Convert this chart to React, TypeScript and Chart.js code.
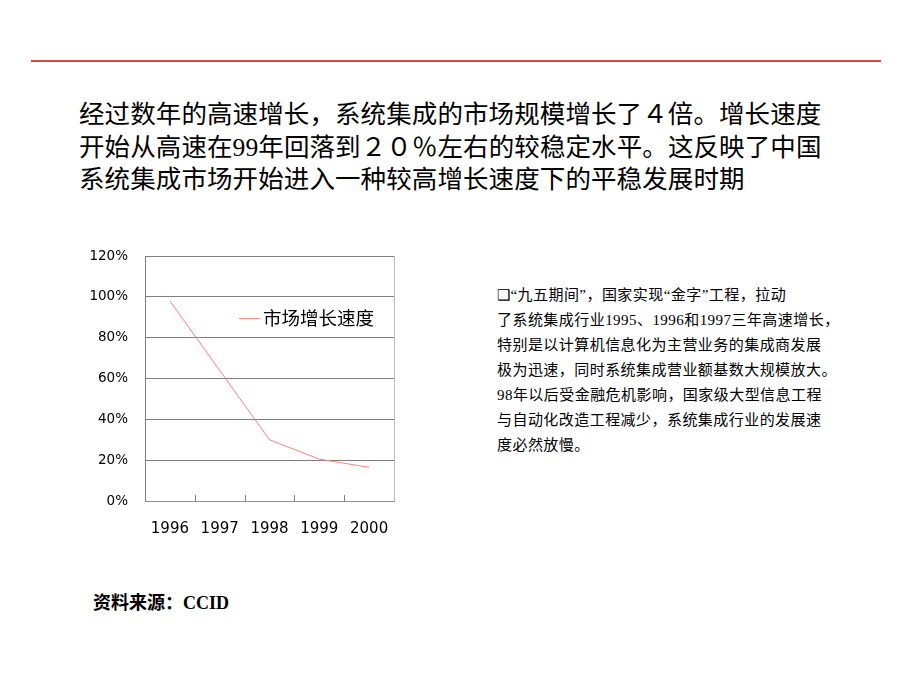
import React, { useEffect, useRef } from "react";
import { Chart, registerables } from "chart.js";

Chart.register(...registerables);

const years = ["1996", "1997", "1998", "1999", "2000"];
const growthRate = [98, 64, 30, 20.5, 16.5];
const seriesLabel = "市场增长速度";
const yTicks = [0, 20, 40, 60, 80, 100, 120];

const titleLines = [
  "经过数年的高速增长，系统集成的市场规模增长了４倍。增长速度",
  "开始从高速在99年回落到２０％左右的较稳定水平。这反映了中国",
  "系统集成市场开始进入一种较高增长速度下的平稳发展时期",
];

const noteLines = [
  "❑“九五期间”，国家实现“金字”工程，拉动",
  "了系统集成行业1995、1996和1997三年高速增长，",
  "特别是以计算机信息化为主营业务的集成商发展",
  "极为迅速，同时系统集成营业额基数大规模放大。",
  "98年以后受金融危机影响，国家级大型信息工程",
  "与自动化改造工程减少，系统集成行业的发展速",
  "度必然放慢。",
];

const frameAndLegend = {
  id: "frameAndLegend",
  afterDraw(chart: any) {
    const { ctx, chartArea } = chart;
    const x = chart.scales.x;
    ctx.save();
    ctx.strokeStyle = "#b8c0b8";
    ctx.lineWidth = 1;
    ctx.beginPath();
    ctx.moveTo(Math.round(chartArea.right) + 0.5, chartArea.top);
    ctx.lineTo(Math.round(chartArea.right) + 0.5, chartArea.bottom);
    ctx.stroke();
    ctx.strokeStyle = "#808080";
    for (let i = 1; i < years.length; i++) {
      const px = (x.getPixelForValue(i - 1) + x.getPixelForValue(i)) / 2;
      ctx.beginPath();
      ctx.moveTo(Math.round(px) + 0.5, chartArea.bottom);
      ctx.lineTo(Math.round(px) + 0.5, chartArea.bottom - 6);
      ctx.stroke();
    }
    const ds = chart.data.datasets[0];
    const lx = chartArea.left + 94;
    const ly = chartArea.top + 62;
    ctx.strokeStyle = ds.borderColor;
    ctx.lineWidth = 1;
    ctx.beginPath();
    ctx.moveTo(lx, ly + 0.5);
    ctx.lineTo(lx + 21, ly + 0.5);
    ctx.stroke();
    ctx.fillStyle = "#000";
    ctx.font = "18.5px 'Noto Sans CJK SC'";
    ctx.textBaseline = "middle";
    ctx.textAlign = "left";
    ctx.fillText(ds.label, lx + 24, ly);
    ctx.restore();
  },
};

function GrowthChart() {
  const ref = useRef<HTMLCanvasElement | null>(null);
  useEffect(() => {
    if (!ref.current) return;
    const chart = new Chart(ref.current, {
      type: "line",
      data: {
        labels: years,
        datasets: [
          {
            label: seriesLabel,
            data: growthRate,
            borderColor: "#ff8080",
            borderWidth: 1,
            pointRadius: 0,
            tension: 0,
            fill: false,
          },
        ],
      },
      options: {
        responsive: false,
        animation: false,
        layout: { padding: { top: 10, right: 16, left: 0, bottom: 0 } },
        plugins: { legend: { display: false }, tooltip: { enabled: false } },
        scales: {
          x: {
            type: "category",
            offset: true,
            grid: { display: false, drawTicks: false },
            border: { display: true, color: "#909090", width: 1 },
            ticks: {
              color: "#000",
              font: { family: "'DejaVu Sans'", size: 15 },
              padding: 19,
              maxRotation: 0,
            },
            afterFit: (s: any) => {
              s.height = 46;
            },
          },
          y: {
            min: 0,
            max: 120,
            afterBuildTicks: (s: any) => {
              s.ticks = yTicks.map((v) => ({ value: v }));
            },
            grid: { color: "#808080", drawTicks: false, lineWidth: 1 },
            border: { display: true, color: "#808080", width: 1 },
            ticks: {
              color: "#000",
              font: { family: "'DejaVu Sans'", size: 13.5 },
              padding: 17,
              callback: (v: any) => v + "%",
            },
            afterFit: (s: any) => {
              s.width = 55;
            },
          },
        },
      },
      plugins: [frameAndLegend],
    });
    return () => chart.destroy();
  }, []);
  return <canvas ref={ref} width={320} height={316} style={{ width: 320, height: 316, display: "block" }} />;
}

export default function App() {
  useEffect(() => {
    document.body.style.margin = "0";
  }, []);
  return (
    <div
      style={{
        position: "absolute",
        left: 0,
        top: 0,
        width: 920,
        height: 690,
        background: "#fff",
        overflow: "hidden",
        fontFamily: "'Noto Sans CJK SC', sans-serif",
      }}
    >
      <div style={{ position: "absolute", left: 31, top: 60, width: 850, height: 2, background: "#e8463e" }} />
      {titleLines.map((l, i) => (
        <div
          key={i}
          style={{
            position: "absolute",
            left: 79,
            top: 100 + i * 32.5,
            height: 30,
            color: "#000",
            fontFamily: "'Liberation Serif', 'Noto Sans CJK SC', sans-serif",
            fontSize: 25.5,
            lineHeight: "30px",
            letterSpacing: 0.1,
            whiteSpace: "nowrap",
          }}
        >
          {l}
        </div>
      ))}
      <div style={{ position: "absolute", left: 90, top: 231 }}>
        <GrowthChart />
      </div>
      <div
        style={{
          position: "absolute",
          left: 497,
          top: 283,
          color: "#000",
          fontFamily: "'Liberation Serif', 'Noto Sans CJK SC', serif",
          fontSize: 15,
          lineHeight: "25px",
          letterSpacing: 0.45,
        }}
      >
        {noteLines.map((l, i) => (
          <div key={i} style={{ whiteSpace: "nowrap" }}>{l}</div>
        ))}
      </div>
      <div style={{ position: "absolute", left: 93, top: 588, fontSize: 18, fontWeight: "bold", lineHeight: "26px", whiteSpace: "nowrap" }}>
        资料来源：<span style={{ fontFamily: "'Liberation Serif', serif" }}>CCID</span>
      </div>
    </div>
  );
}
